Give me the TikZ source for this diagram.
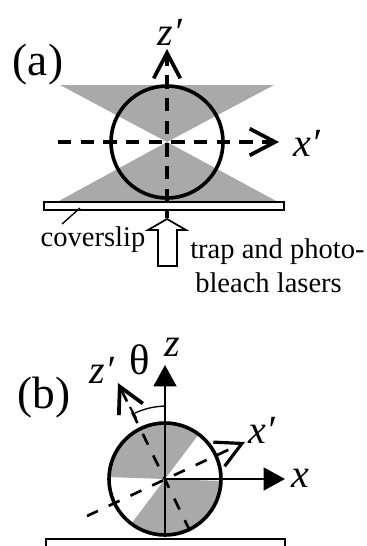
\documentclass[tikz,border=0pt]{standalone}
\usepackage{fontspec}
\setmainfont{Liberation Serif}
\usetikzlibrary{arrows.meta}
\definecolor{beam}{HTML}{A9A9A9}

\begin{document}
\begin{tikzpicture}[x=0.75pt, y=-0.75pt,
  lab/.style={font=\fontsize{21.4}{24}\selectfont, inner sep=0pt},
  axlab/.style={font=\fontsize{30}{32}\selectfont\itshape, inner sep=0pt},
  panel/.style={font=\fontsize{34}{36}\selectfont, inner sep=0pt},
  bead/.style={circle, draw, line width=2.7pt, minimum size=84pt, inner sep=0pt},
  dashaxis/.style={line width=#1, dash pattern=on 10pt off 7pt},
  dashtilt/.style={line width=#1, dash pattern=on 9pt off 9pt},
  barb/.style={-{Straight Barb[length=19pt, width=20pt, line width=2.8pt]}},
  solidtip/.style={-{Triangle[length=16pt, width=17pt]}, line width=2pt}]
\useasboundingbox (0,0) rectangle (367,546);

% ---- panel (a)
\coordinate (ca) at (167,142);
\fill[beam] (60,85) -- (274,85) -- (ca) -- cycle;
\fill[beam] (57,202) -- (278,202) -- (ca) -- cycle;
\node[bead] (beada) at (ca) {};
\node[draw, line width=1.2pt, fill=white, minimum width=180pt, minimum height=6pt, inner sep=0pt] (slip) at (164,206) {};
\coordinate (xaL) at (58,142);
\coordinate (xaR) at (279,142);
\coordinate (zaB) at (167,202);
\coordinate (zaT) at (167,49);
\coordinate (tickB) at (167,218);
\coordinate (leadA) at (62,224);
\coordinate (leadB) at (80,208);
\draw[dashaxis=2.7pt, barb] (xaL) -- (xaR);
\draw[dashaxis=2.7pt, barb] (zaB) -- (zaT);
\draw[line width=2.7pt] (zaB |- slip.south) -- (tickB);
\draw[line width=1pt] (leadA) -- (leadB);
\draw[line width=1.3pt, fill=white] (167,219) -- (186,230) -- (177,230) -- (177,266) -- (158,266) -- (158,230) -- (148,230) -- cycle;
\node[panel] (a) at (38,65) {(a)};
\node[axlab] (zpa) at (170,32) {z′};
\node[axlab] (xpa) at (307,143) {x′};
\node[lab] (cov) at (93,240) {coverslip};
\node[lab, anchor=base west] (trap) at (190,258) {trap and photo-};
\node[lab, anchor=base west] (bleach) at (195,292) {bleach lasers};

% ---- panel (b)
\coordinate (cb) at (165,479);
\fill[beam] (cb) -- ++(53:42pt) arc[start angle=53, end angle=178, radius=42pt] -- cycle;
\fill[beam] (cb) -- ++(233:42pt) arc[start angle=233, end angle=358, radius=42pt] -- cycle;
\node[bead] (beadb) at (cb) {};
\coordinate (zpE) at (118,383);
\coordinate (zpS) at (190,531);
\coordinate (xpE) at (245,442);
\coordinate (xpS) at (87,516);
\coordinate (zT) at (165,365);
\coordinate (zB) at (165,535);
\coordinate (xR) at (285,479);
\draw[dashtilt=2pt, barb] (zpS) -- (zpE);
\draw[dashtilt=2pt, -{Straight Barb[length=19pt, width=20pt, line width=2.4pt]}] (xpS) -- (xpE);
\draw[solidtip] (zB) -- (zT);
\draw[solidtip] (cb) -- (xR);
\coordinate (arcA) at (165,406);
\coordinate (arcB) at (135,413);
\draw[line width=1pt] (arcA) to[bend right=10] (arcB);
\draw[line width=1.6pt] (130,407) -- (136,418);
\draw[line width=1.3pt] (46,546) -- (46,539) -- (285,539) -- (285,546);
\node[panel] (b) at (44,398) {(b)};
\node[axlab] (zpb) at (102,370) {z′};
\node[axlab] (xpb) at (262,430) {x′};
\node[axlab] (zb) at (172,347) {z};
\node[axlab] (xb) at (300,478) {x};
\node[font=\fontsize{32}{32}\selectfont, inner sep=0pt] (th) at (140,360) {θ};
\end{tikzpicture}
\end{document}
